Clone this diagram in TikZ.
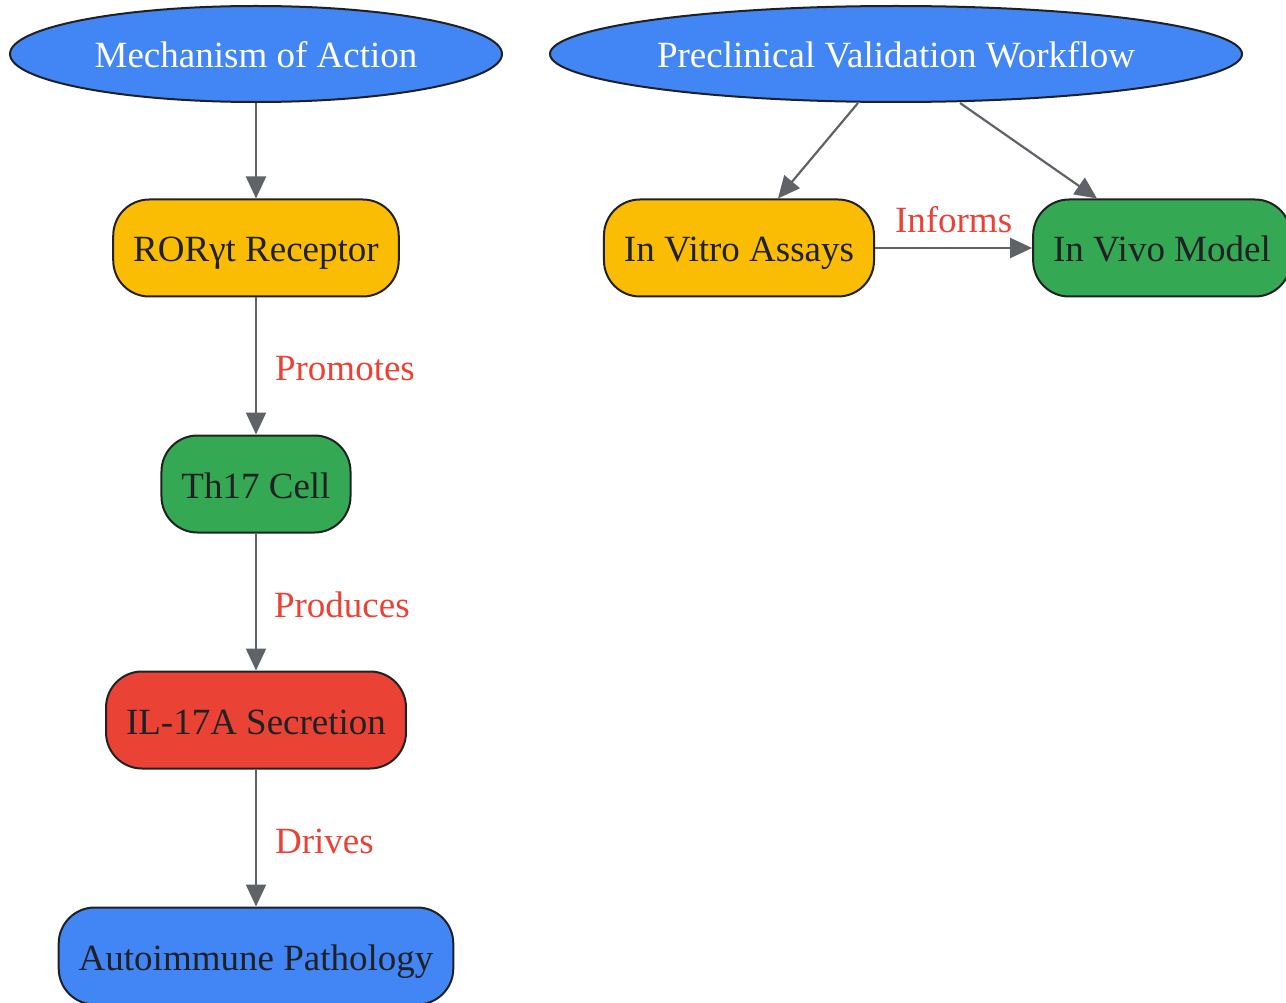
\documentclass[tikz,border=0pt]{standalone}
\usepackage{fontspec}
\setmainfont{Liberation Serif}
\usetikzlibrary{arrows.meta,shapes.geometric}

\definecolor{gblue}{HTML}{4285F4}
\definecolor{gyellow}{HTML}{FBBC04}
\definecolor{ggreen}{HTML}{34A853}
\definecolor{gred}{HTML}{EA4335}
\definecolor{ink}{HTML}{202124}
\definecolor{edgegray}{HTML}{5F6368}

\begin{document}
\begin{tikzpicture}[
                x=1pt, y=-1pt,
                font=\fontsize{37}{44}\selectfont,
                Title/.style={ellipse, draw=ink, line width=2pt, fill=gblue, text=white, inner sep=0pt, minimum height=96pt, text height=34pt, text depth=6pt},
                StepBox/.style={rectangle, rounded corners=36pt, draw=ink, line width=2pt, text=ink, inner xsep=20pt, minimum height=97pt, text height=34pt, text depth=6pt},
                Link/.style={draw=edgegray, line width=2.2pt, -{Triangle[length=22pt, width=20pt]}},
                LinkText/.style={text=gred, inner sep=0pt},
            ]
            \useasboundingbox (0,0) rectangle (1286,1003);

            % left column
            \node [Title, minimum width=492pt] (moa) at (256,54) {Mechanism of Action};
            \node [StepBox, fill=gyellow] (ror) at (256,248) {RORγt Receptor};
            \node [StepBox, fill=ggreen] (th17) at (256,484) {Th17 Cell};
            \node [StepBox, fill=gred] (il17) at (256,720) {IL-17A Secretion};
            \node [StepBox, fill=gblue] (auto) at (256,956) {Autoimmune Pathology};

            % right part
            \node [Title, minimum width=692pt] (prec) at (896,54) {Preclinical Validation Workflow};
            \node [StepBox, fill=gyellow] (vitro) at (739,248) {In Vitro Assays};
            \node [StepBox, fill=ggreen] (vivo) at (1162,248) {In Vivo Model};

            \draw [Link] (moa) -- (ror);
            \draw [Link] (ror) -- node [LinkText, right=18pt, yshift=-3pt] {Promotes} (th17);
            \draw [Link] (th17) -- node [LinkText, right=17pt, yshift=-3pt] {Produces} (il17);
            \draw [Link] (il17) -- node [LinkText, right=18pt, yshift=-3pt] {Drives} (auto);

            \coordinate (p1) at ([xshift=-38pt]prec.south);
            \coordinate (p2) at ([xshift=64pt]prec.south);
            \draw [Link] (p1) -- (vitro.north -| 778,0);
            \draw [Link] (p2) -- (vivo.north -| 1097,0);
            \draw [Link] (vitro) -- node [LinkText, above=14pt] {Informs} (vivo);
        \end{tikzpicture}
\end{document}
